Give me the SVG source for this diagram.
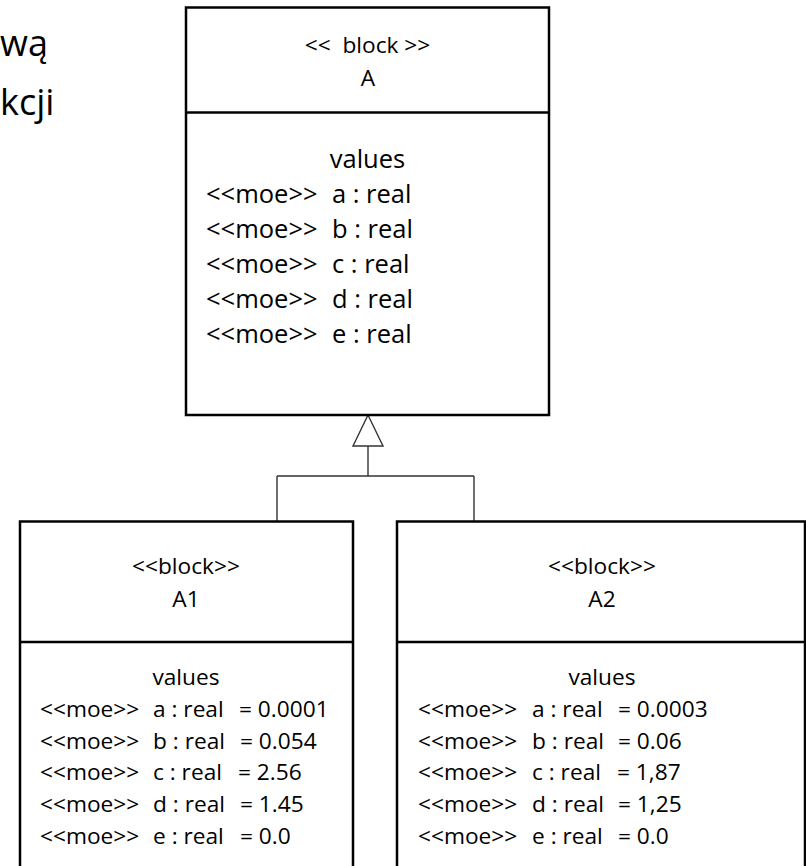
<svg xmlns="http://www.w3.org/2000/svg" width="806" height="866" viewBox="0 0 806 866">
  <style>
    text { font-family: "Open Sans", "Noto Sans", "Liberation Sans", sans-serif; fill: #000; }
    .box { fill: #fff; stroke: #000; stroke-width: 2.5; }
    .div { stroke: #000; stroke-width: 2.5; fill: none; }
    .conn { stroke: #333; stroke-width: 1.4; fill: none; }
    .tri { fill: #fff; stroke: #333; stroke-width: 1.4; }
    .big { font-size: 36px; }
    .hdA { font-size: 22.7px; text-anchor: middle; }
    .bodyA { font-size: 25.5px; }
    .hd { font-size: 22.7px; text-anchor: middle; }
    .body { font-size: 22.7px; }
    .mid { text-anchor: middle; }
  </style>

  <!-- text fragment at the upper left edge -->
  <g id="caption">
    <text class="big" x="0" y="56">wą</text>
    <text class="big" x="0" y="115">kcji</text>
  </g>

  <!-- generalization connectors -->
  <g id="connectors">
    <path class="conn" d="M368 446 V476 M277 476 H474 M277 476 V521 M474 476 V521"/>
    <polygon class="tri" points="368,415 353,446 383,446"/>
  </g>

  <!-- block A -->
  <g id="block-A">
    <rect class="box" x="186" y="7.5" width="363" height="407.5"/>
    <line class="div" x1="186" y1="112.5" x2="549" y2="112.5"/>
    <text class="hdA" x="367.5" y="53" xml:space="preserve">&lt;&lt;  block &gt;&gt;</text>
    <text class="hdA" x="368" y="86">A</text>
    <text class="bodyA mid" x="367.5" y="168">values</text>
    <text class="bodyA"><tspan x="206" y="203">&lt;&lt;moe&gt;&gt;</tspan><tspan x="332" y="203">a : real</tspan></text>
    <text class="bodyA"><tspan x="206" y="238">&lt;&lt;moe&gt;&gt;</tspan><tspan x="332" y="238">b : real</tspan></text>
    <text class="bodyA"><tspan x="206" y="273">&lt;&lt;moe&gt;&gt;</tspan><tspan x="332" y="273">c : real</tspan></text>
    <text class="bodyA"><tspan x="206" y="308">&lt;&lt;moe&gt;&gt;</tspan><tspan x="332" y="308">d : real</tspan></text>
    <text class="bodyA"><tspan x="206" y="343">&lt;&lt;moe&gt;&gt;</tspan><tspan x="332" y="343">e : real</tspan></text>
  </g>

  <!-- block A1 -->
  <g id="block-A1">
    <rect class="box" x="20" y="521.5" width="333" height="360"/>
    <line class="div" x1="20" y1="642" x2="353" y2="642"/>
    <text class="hd" x="186" y="574">&lt;&lt;block&gt;&gt;</text>
    <text class="hd" x="186" y="607">A1</text>
    <text class="body mid" x="186" y="685">values</text>
    <text class="body"><tspan x="40" y="717">&lt;&lt;moe&gt;&gt;</tspan><tspan x="153" y="717">a : real</tspan><tspan x="239" y="717">= 0.0001</tspan></text>
    <text class="body"><tspan x="40" y="748.5">&lt;&lt;moe&gt;&gt;</tspan><tspan x="153" y="748.5">b : real</tspan><tspan x="240" y="748.5">= 0.054</tspan></text>
    <text class="body"><tspan x="40" y="780">&lt;&lt;moe&gt;&gt;</tspan><tspan x="153" y="780">c : real</tspan><tspan x="238" y="780">= 2.56</tspan></text>
    <text class="body"><tspan x="40" y="812">&lt;&lt;moe&gt;&gt;</tspan><tspan x="153" y="812">d : real</tspan><tspan x="240" y="812">= 1.45</tspan></text>
    <text class="body"><tspan x="40" y="844">&lt;&lt;moe&gt;&gt;</tspan><tspan x="153" y="844">e : real</tspan><tspan x="240" y="844">= 0.0</tspan></text>
  </g>

  <!-- block A2 -->
  <g id="block-A2">
    <rect class="box" x="397" y="521.5" width="408" height="360"/>
    <line class="div" x1="397" y1="642" x2="805" y2="642"/>
    <text class="hd" x="602" y="574">&lt;&lt;block&gt;&gt;</text>
    <text class="hd" x="602" y="607">A2</text>
    <text class="body mid" x="602" y="685">values</text>
    <text class="body"><tspan x="418" y="717">&lt;&lt;moe&gt;&gt;</tspan><tspan x="532" y="717">a : real</tspan><tspan x="618" y="717">= 0.0003</tspan></text>
    <text class="body"><tspan x="418" y="748.5">&lt;&lt;moe&gt;&gt;</tspan><tspan x="532" y="748.5">b : real</tspan><tspan x="618" y="748.5">= 0.06</tspan></text>
    <text class="body"><tspan x="418" y="780">&lt;&lt;moe&gt;&gt;</tspan><tspan x="532" y="780">c : real</tspan><tspan x="617" y="780">= 1,87</tspan></text>
    <text class="body"><tspan x="418" y="812">&lt;&lt;moe&gt;&gt;</tspan><tspan x="532" y="812">d : real</tspan><tspan x="618" y="812">= 1,25</tspan></text>
    <text class="body"><tspan x="418" y="844">&lt;&lt;moe&gt;&gt;</tspan><tspan x="532" y="844">e : real</tspan><tspan x="618" y="844">= 0.0</tspan></text>
  </g>
</svg>
